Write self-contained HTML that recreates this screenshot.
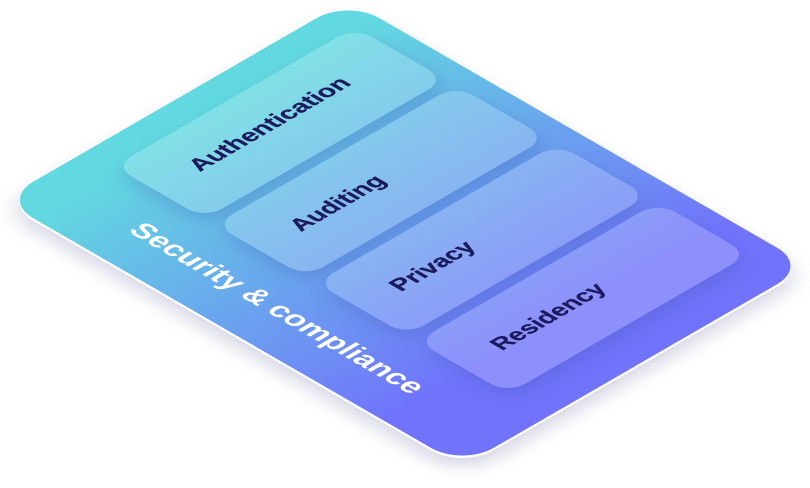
<!DOCTYPE html>
<html><head><meta charset="utf-8"><style>html,body{margin:0;padding:0;background:#fff}svg{display:block}text{font-family:"Liberation Sans",sans-serif;font-weight:700}</style></head>
<body>
<svg width="810" height="488" viewBox="0 0 810 488" xmlns="http://www.w3.org/2000/svg">
<defs>
<linearGradient id="g" x1="0" y1="0" x2="1" y2="0"><stop offset="0.06" stop-color="#62d9e0"/><stop offset="0.84" stop-color="#7173fb"/></linearGradient>
<filter id="b" x="-20%" y="-20%" width="140%" height="140%"><feGaussianBlur stdDeviation="11"/></filter>
<filter id="s" x="-30%" y="-40%" width="160%" height="180%" color-interpolation-filters="sRGB"><feGaussianBlur in="SourceAlpha" stdDeviation="11"/><feOffset dx="10" dy="6" result="o"/><feFlood flood-color="#3f55b5" flood-opacity=".3"/><feComposite in2="o" operator="in"/><feComposite in2="SourceAlpha" operator="out"/></filter>
</defs>
<g transform="matrix(.866,.5,-.866,.5,348,0)">
<rect x="10" y="10" width="532" height="400" rx="36" fill="#4a4f8a" opacity=".25" filter="url(#b)"/>
<rect x="2.500" y="2.500" width="532" height="400" rx="36" fill="#fff"/>
<rect width="532" height="400" rx="36" fill="url(#g)"/>
</g>
<g transform="matrix(.866,.5,-.866,.5,348,0)" filter="url(#s)" fill="#000"><rect x="31" y="23" width="105" height="278.500" rx="20"/><rect x="147.600" y="23" width="105" height="278.500" rx="20"/><rect x="264.300" y="23" width="105" height="278.500" rx="20"/><rect x="381" y="23" width="105" height="278.500" rx="20"/></g>
<g transform="matrix(.866,.5,-.866,.5,348,0)" fill="#fff" fill-opacity=".2"><rect x="31" y="23" width="105" height="278.500" rx="20"/><rect x="147.600" y="23" width="105" height="278.500" rx="20"/><rect x="264.300" y="23" width="105" height="278.500" rx="20"/><rect x="381" y="23" width="105" height="278.500" rx="20"/></g>
<g fill="#1b1a5c" stroke="#1b1a5c" stroke-width=".3" font-size="24">
<text transform="matrix(.866,-.5,.866,.5,200,172)" textLength="176" lengthAdjust="spacingAndGlyphs">Authentication</text>
<text transform="matrix(.866,-.5,.866,.5,301,232)" textLength="100" lengthAdjust="spacingAndGlyphs">Auditing</text>
<text transform="matrix(.866,-.5,.866,.5,401,292)" textLength="88" lengthAdjust="spacingAndGlyphs">Privacy</text>
<text transform="matrix(.866,-.5,.866,.5,502,351)" textLength="122" lengthAdjust="spacingAndGlyphs">Residency</text>
</g>
<text transform="matrix(.866,.5,-.866,.5,127,231)" font-size="29" fill="#fff" textLength="328" lengthAdjust="spacingAndGlyphs">Security &amp; compliance</text>
</svg>
</body></html>
